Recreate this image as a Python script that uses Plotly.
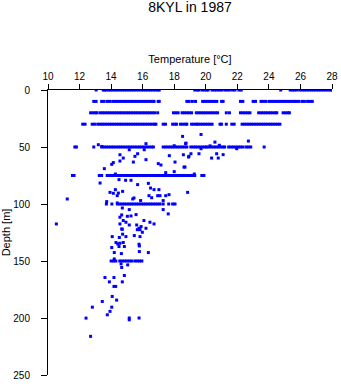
import plotly.graph_objects as go

# Temperatures (°C) observed at standard depths
depth_levels = [0, 10, 20, 30, 50, 75, 100, 150]

t_0m = [13.05, 13.5, 13.6, 13.7, 13.85, 13.95, 14.1, 14.25, 14.4, 14.55, 14.7, 14.85, 15.0, 15.15,
        15.3, 15.45, 15.6, 15.75, 15.9, 16.05, 16.2, 16.35, 16.5, 16.65, 16.8, 16.95, 17.05,
        19.3, 19.45, 19.55, 19.75, 19.9, 20.05, 20.15, 20.4, 20.55, 20.7, 20.85, 21.0, 21.2,
        21.35, 21.5, 21.7, 21.85, 22.1, 22.25, 24.75, 25.35, 25.5, 25.6, 25.75, 25.95, 26.1,
        26.25, 26.4, 26.55, 26.7, 26.85, 27.0, 27.15, 27.3, 27.45, 27.6, 27.75, 27.9, 28.0]

t_10m = [12.9, 13.05, 13.4, 13.55, 13.75, 13.9, 14.1, 14.25, 14.4, 14.55, 14.7, 14.85, 15.0,
         15.15, 15.3, 15.45, 15.6, 15.75, 15.9, 16.05, 16.2, 16.35, 16.5, 16.65, 16.72, 16.98,
         17.05, 18.8, 18.95, 19.15, 19.35, 19.8, 19.95, 20.1, 20.25, 20.4, 20.55, 20.7, 21.0,
         21.1, 22.2, 22.35, 23.0, 23.15, 23.5, 23.65, 23.8, 24.0, 24.15, 24.3, 24.45, 24.6,
         24.75, 24.9, 25.05, 25.2, 25.35, 25.5, 25.65, 25.75, 25.9, 26.1, 26.25, 26.45, 26.6,
         26.75]

t_20m = [12.7, 12.85, 13.0, 13.1, 13.3, 13.45, 13.6, 13.75, 13.9, 14.05, 14.2, 14.35, 14.5,
         14.65, 14.8, 14.95, 15.1, 15.25, 15.4, 15.55, 15.7, 15.85, 16.0, 16.15, 16.3, 16.45,
         16.6, 16.75, 16.95, 17.95, 18.1, 18.25, 18.5, 18.65, 18.8, 18.95, 19.1, 19.4, 19.55,
         19.7, 19.85, 20.0, 20.15, 20.3, 20.45, 20.6, 20.75, 21.3, 21.5, 22.2, 22.35, 22.5,
         22.65, 22.8, 23.35, 23.5, 23.65, 23.8, 23.95, 24.1, 24.25, 24.4, 24.5, 24.9, 25.05,
         25.2, 25.3]

t_30m = [12.2, 12.35, 12.8, 12.95, 13.15, 13.3, 13.45, 13.6, 13.75, 13.9, 14.05, 14.2, 14.35,
         14.5, 14.65, 14.8, 14.95, 15.1, 15.25, 15.4, 15.55, 15.7, 15.85, 16.0, 16.15, 16.3,
         16.45, 16.6, 16.75, 16.84, 17.3, 17.45, 17.9, 18.05, 18.15, 18.4, 18.55, 18.7, 18.8,
         19.1, 19.25, 19.4, 19.5, 19.65, 19.8, 19.95, 20.1, 20.25, 20.4, 20.9, 21.0, 21.3,
         21.65, 21.8, 22.3, 22.45, 22.6, 22.75, 22.9, 23.05, 23.2, 23.35, 23.5, 23.65, 23.8,
         23.95, 24.1, 24.25, 24.4, 24.55, 24.7]

t_50m = [11.7, 11.8, 12.9, 13.4, 13.55, 13.7, 13.85, 14.0, 14.15, 14.3, 14.45, 14.6, 14.75,
         14.9, 15.05, 15.2, 15.35, 15.5, 15.65, 15.8, 15.95, 16.1, 16.25, 16.4, 16.55, 16.68,
         17.3, 17.45, 17.6, 17.75, 17.9, 18.05, 18.2, 18.35, 18.5, 18.65, 18.8, 19.05, 19.2,
         19.35, 19.5, 19.65, 19.8, 19.95, 20.05, 20.2, 20.35, 20.5, 20.65, 20.8, 20.95, 21.1,
         21.2, 21.45, 21.6, 21.75, 21.9, 22.05, 22.2, 22.35, 22.55, 22.7, 22.85, 23.7]

t_75m = [11.55, 11.65, 13.25, 13.4, 13.75, 13.9, 14.05, 14.2, 14.35, 14.5, 14.65, 14.8, 14.95,
         15.1, 15.25, 15.4, 15.55, 15.7, 15.85, 16.0, 16.15, 16.3, 16.45, 16.6, 16.75, 16.9,
         17.05, 17.2, 17.35, 17.5, 17.65, 17.8, 17.95, 18.1, 18.25, 18.4, 18.55, 18.7, 18.85,
         19.0, 19.15, 19.3, 19.75, 19.88]

t_100m = [13.7, 14.05, 14.4, 14.55, 14.7, 14.85, 15.0, 15.15, 15.3, 15.45, 15.6, 15.75, 15.9,
          16.05, 16.2, 16.35, 16.5, 16.65, 16.8, 16.95, 17.1, 17.3, 17.65, 17.9, 18.05]

t_150m = [14.0, 14.15, 14.3, 14.55, 14.7, 14.85, 15.0, 15.15, 15.3, 15.5, 15.65, 15.8, 15.95]

# Scattered observations at non-standard depths
extra_temp = [13.19, 13.42, 16.21, 18.53, 18.72, 18.0, 16.1, 15.15, 14.56, 15.68, 15.51, 14.77,
              14.56, 15.41, 16.21, 14.14, 14.04, 17.69, 18.58, 18.91, 16.99, 17.16, 18.05, 18.62,
              13.57, 14.27, 17.46, 18.0,
              19.7, 18.75, 20.58, 22.7, 19.7, 20.27, 20.86, 21.96, 19.06, 19.57, 20.69, 21.1,
              18.93, 20.37, 20.79, 18.68, 19.27,
              13.3, 14.5, 14.92, 15.26, 15.68, 16.36, 16.5, 16.72, 17.03, 14.27, 14.73, 13.93,
              14.14, 14.46, 14.39, 11.22, 15.45, 15.37, 16.4, 16.57, 16.95, 17.1, 17.46, 17.67,
              18.85, 13.72, 14.39, 15.87, 17.3,
              14.71, 15.15, 17.3, 17.62, 15.58, 15.26, 14.56, 14.67, 15.03, 14.77, 14.94, 15.15,
              14.56, 16.08, 16.46, 16.72, 15.62, 14.67, 15.77, 15.9, 15.72, 16.21, 10.53,
              14.71, 15.66, 15.83, 15.98, 14.07, 14.52, 14.73, 14.94, 15.47, 15.83, 14.31, 14.42,
              14.56, 14.77, 14.5, 14.84, 14.04, 15.77, 15.79, 15.79, 16.36, 14.2, 14.65, 14.2,
              14.63, 15.05, 14.67, 14.84, 13.61, 14.18, 13.89, 14.71, 14.18, 14.29, 14.07, 13.44,
              14.35, 12.81, 14.04, 13.93, 13.76, 12.41, 15.15, 15.15, 15.77, 12.7]
extra_depth = [48.0, 49.5, 47.1, 40.7, 47.1, 48.9, 52.4, 52.4, 56.8, 55.9, 58.2, 59.7,
               62.3, 63.2, 61.1, 63.7, 65.2, 57.6, 56.8, 58.8, 64.6, 65.8, 63.2, 67.6,
               69.0, 73.7, 72.5, 71.6,
               39.0, 46.6, 45.7, 44.8, 51.5, 49.0, 48.5, 51.5, 55.9, 55.9, 55.9, 56.7,
               58.2, 59.7, 59.7, 67.6, 73.7,
               81.6, 78.6, 79.2, 79.2, 83.0, 81.9, 86.0, 87.4, 87.4, 87.4, 88.9, 89.8,
               90.6, 90.4, 92.7, 95.6, 94.7, 95.6, 92.7, 94.5, 92.7, 92.7, 92.7, 91.8,
               89.8, 97.9, 99.1, 97.0, 97.0,
               103.5, 104.9, 104.9, 108.7, 109.3, 110.5, 111.6, 109.6, 110.8, 114.5, 116.0, 118.4,
               117.5, 114.5, 116.0, 117.5, 118.4, 121.9, 121.3, 119.8, 122.4, 121.3, 117.5,
               122.2, 122.5, 122.5, 124.8, 128.6, 129.4, 126.5, 128.6, 127.7, 128.6, 133.8, 135.0,
               134.4, 133.8, 137.3, 137.3, 138.2, 135.3, 136.8, 141.7, 142.6, 142.6, 143.5, 148.2,
               152.5, 153.4, 155.7, 162.7, 164.5, 164.5, 168.3, 168.3, 172.3, 172.3, 181.1, 185.5,
               184.3, 190.5, 190.5, 194.2, 197.2, 200.1, 200.0, 201.6, 200.0, 216.1]

x_ticks = [10, 12, 14, 16, 18, 20, 22, 24, 26, 28]
y_ticks = [0, 50, 100, 150, 200, 250]

rows = [t_0m, t_10m, t_20m, t_30m, t_50m, t_75m, t_100m, t_150m]
temps, depths = [], []
for d, row in zip(depth_levels, rows):
    temps += row
    depths += [d] * len(row)
temps += extra_temp
depths += extra_depth

fig = go.Figure(go.Scatter(
    x=temps, y=depths, mode="markers",
    marker=dict(symbol="square", size=3, color="#0000ff", line=dict(width=0)),
    hoverinfo="x+y",
))

font = "Liberation Sans, Arial, sans-serif"
fig.update_layout(
    width=341, height=384,
    margin=dict(l=48, r=9, t=90, b=9),
    paper_bgcolor="white", plot_bgcolor="white",
    showlegend=False,
    font=dict(family=font, size=10, color="black"),
    title=dict(text="8KYL in 1987", x=0.5, xref="paper", y=0.995, yref="container",
               yanchor="top", font=dict(family=font, size=14, color="black")),
    xaxis=dict(side="top", range=[10, 28], tickvals=x_ticks, ticks="outside", ticklen=5,
               tickcolor="black", showline=True, linecolor="black", linewidth=1,
               showgrid=False, zeroline=False, automargin=False,
               title=dict(text="Temperature [°C]", font=dict(size=11), standoff=5)),
    yaxis=dict(range=[250, 0], tickvals=y_ticks, ticks="outside", ticklen=6,
               tickcolor="black", showline=True, linecolor="black", linewidth=1,
               showgrid=False, zeroline=False, ticklabelstandoff=9, automargin=False,
               title=dict(text="Depth [m]", font=dict(size=11), standoff=4)),
)

fig.write_html("out.html")
